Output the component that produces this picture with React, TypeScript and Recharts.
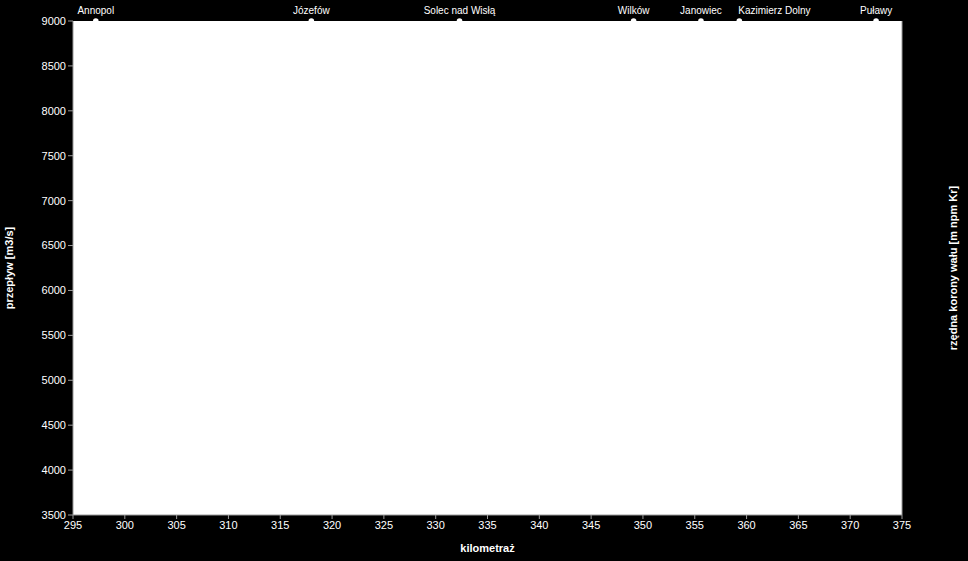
import React from "react";
import {
  ScatterChart,
  Scatter,
  XAxis,
  YAxis,
  CartesianGrid,
} from "recharts";

// miejscowości wzdłuż Wisły (km) — punkty na górnej krawędzi wykresu
const places = ["Annopol", "Józefów", "Solec nad Wisłą", "Wilków", "Janowiec", "Kazimierz Dolny", "Puławy"];
const placeKm = [297.2, 318.0, 332.3, 349.1, 355.6, 359.3, 372.5];
const placeQ = [9000, 9000, 9000, 9000, 9000, 9000, 9000];

const kmTicks = [295, 300, 305, 310, 315, 320, 325, 330, 335, 340, 345, 350, 355, 360, 365, 370, 375];
const flowTicks = [3500, 4000, 4500, 5000, 5500, 6000, 6500, 7000, 7500, 8000, 8500, 9000];
const levelTicks = [120, 125, 130, 135, 140, 145, 150, 155, 160, 165, 170, 175];

const data = places.map((name, i) => ({ name, km: placeKm[i], q: placeQ[i] }));

const font = "'Liberation Sans', Arial, sans-serif";
const axisColor = "#9a9a9a";
const tickStyle = { fill: "#fff", fontSize: 11, fontFamily: font };

// kropka z nazwą miejscowości nad nią (Kazimierz przesunięty w prawo, żeby nie nachodził na Janowiec)
const PlaceDot = (props: any) => {
  const { cx, cy, payload } = props;
  const anchor = payload.name === "Kazimierz Dolny" ? "start" : "middle";
  return (
    <g>
      <circle cx={cx} cy={cy} r={2.8} fill="#fff" />
      <text
        x={anchor === "start" ? cx - 1 : cx}
        y={cy - 7}
        textAnchor={anchor}
        fill="#fff"
        fontSize={10}
        fontFamily={font}
      >
        {payload.name}
      </text>
    </g>
  );
};

export default function App() {
  return (
    <div style={{ position: "fixed", left: 0, top: 0, width: 968, height: 561, background: "#000" }}>
      <ScatterChart width={968} height={561} margin={{ top: 21, right: 0, bottom: 0, left: 0 }}>
        <CartesianGrid fill="#fff" stroke="none" horizontal={false} vertical={false} />
        <XAxis
          type="number"
          dataKey="km"
          domain={[295, 375]}
          ticks={kmTicks}
          height={46}
          stroke={axisColor}
          tickSize={4}
          tickMargin={2}
          tick={tickStyle}
          label={{
            value: "kilometraż",
            position: "insideBottom",
            offset: 9,
            style: { fill: "#fff", fontSize: 11, fontWeight: "bold", fontFamily: font },
          }}
        />
        <YAxis
          yAxisId="q"
          type="number"
          dataKey="q"
          domain={[3500, 9000]}
          ticks={flowTicks}
          width={73}
          stroke={axisColor}
          tickSize={5}
          tickMargin={2}
          tick={tickStyle}
          label={{
            value: "przepływ [m3/s]",
            angle: -90,
            position: "insideLeft",
            offset: 9,
            style: { textAnchor: "middle", fill: "#fff", fontSize: 11, fontWeight: "bold", fontFamily: font },
          }}
        />
        <YAxis
          yAxisId="h"
          orientation="right"
          type="number"
          domain={[120, 175]}
          ticks={levelTicks}
          width={66}
          stroke={axisColor}
          tickSize={5}
          tickMargin={2}
          tick={tickStyle}
          label={{
            value: "rzędna korony wału [m npm Kr]",
            angle: -90,
            position: "insideRight",
            offset: 15,
            style: { textAnchor: "middle", fill: "#fff", fontSize: 11, fontWeight: "bold", fontFamily: font },
          }}
        />
        <Scatter
          yAxisId="q"
          data={data}
          fill="#fff"
          shape={PlaceDot}
          isAnimationActive={false}
        />
      </ScatterChart>
    </div>
  );
}
